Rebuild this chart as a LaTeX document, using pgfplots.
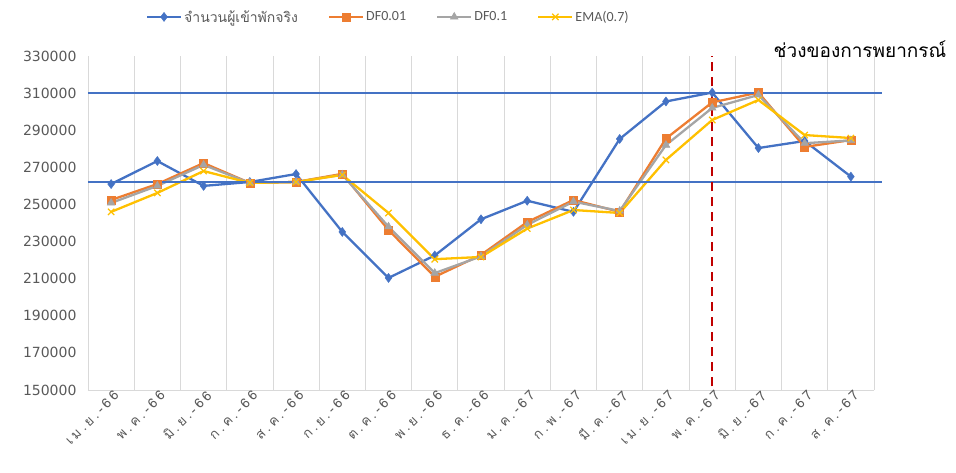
\documentclass[border=0pt]{standalone}
\usepackage{fontspec}
\usepackage{pgfplots}
\pgfplotsset{compat=1.18}
\usepackage{pgfplotstable}
\setmainfont{Carlito}
\newfontfamily\thai[Script=Thai]{Loma}
\newfontfamily\thaiwide[Script=Thai, LetterSpace=22]{Loma}
\newfontfamily\dejavu{DejaVu Sans}
\definecolor{cblue}{HTML}{4472C4}
\definecolor{corange}{HTML}{ED7D31}
\definecolor{cgray}{HTML}{A5A5A5}
\definecolor{cyellow}{HTML}{FFC000}
\definecolor{ctext}{HTML}{595959}
\definecolor{cred}{HTML}{C00000}
\definecolor{cgrid}{HTML}{D9D9D9}

\pgfplotstableread{
idx actual df001 df01 ema
0 261000 252400 250800 246000
1 273400 261000 260000 256200
2 260000 272300 271300 268000
3 262100 261600 261600 261600
4 266400 262100 262100 262100
5 235200 266500 266000 265900
6 210400 236200 238000 245400
7 222500 211000 213000 220500
8 242000 222800 222000 221700
9 252000 240500 239000 237000
10 246000 252400 251500 247000
11 285300 246000 246500 245400
12 305500 285500 282000 274000
13 310300 305000 302000 295500
14 280400 310300 309000 306300
15 284200 281000 283000 287400
16 265000 284700 284500 285800
}\datatable

\begin{document}
\begin{tikzpicture}
\path[use as bounding box] (-88pt,-82pt) rectangle (868pt,390pt);
\begin{axis}[
  scale only axis,
  width=786pt, height=334pt,
  xmin=-0.5, xmax=16.5,
  ymin=150000, ymax=330000,
  clip=false,
  axis x line*=bottom,
  axis y line*=left,
  x axis line style={draw=cgrid, line width=0.8pt},
  y axis line style={draw=none},
  major tick length=0pt,
  minor tick length=0pt,
  xtick={0,...,16},
  xticklabels={เม.ย.-66,พ.ค.-66,มิ.ย.-66,ก.ค.-66,ส.ค.-66,ก.ย.-66,ต.ค.-66,พ.ย.-66,ธ.ค.-66,ม.ค.-67,ก.พ.-67,มี.ค.-67,เม.ย.-67,พ.ค.-67,มิ.ย.-67,ก.ค.-67,ส.ค.-67},
  minor xtick={-0.5,0.5,...,16.5},
  xminorgrids,
  minor grid style={draw=cgrid, line width=0.8pt},
  xticklabel style={rotate=45, anchor=east, font=\thaiwide\fontsize{13.5}{13.5}\selectfont, text=ctext, xshift=5pt, yshift=-6pt},
  scaled y ticks=false,
  ytick={150000,170000,...,330000},
  yticklabel style={font=\dejavu\fontsize{14}{14}\selectfont, text=ctext, xshift=-8pt},
  /pgf/number format/.cd, fixed, 1000 sep={}, assume math mode=true,
  /pgfplots/.cd,
  legend columns=4,
  legend style={at={(0.382,1.117)}, anchor=center, draw=none, fill=none,
    font=\fontsize{14}{14}\selectfont, text=ctext,
    /tikz/every even column/.append style={column sep=28pt}},
  legend image code/.code={\draw[mark repeat=2,mark phase=2,#1] plot coordinates {(0pt,0pt) (17pt,0pt) (34pt,0pt)};},
  every axis plot/.append style={line width=2.3pt, mark options={solid}},
]
\addplot[cblue, mark=diamond*, mark size=4.5pt, mark options={fill=cblue, line width=0.5pt}] table[x=idx, y=actual] {\datatable};
\addlegendentry{\thai จำนวนผู้เข้าพักจริง}
\addplot[corange, mark=square*, mark size=4pt, mark options={fill=corange, line width=0.5pt}] table[x=idx, y=df001] {\datatable};
\addlegendentry{DF0.01}
\addplot[cgray, mark=triangle*, mark size=4.5pt, mark options={fill=cgray, line width=0.5pt}] table[x=idx, y=df01] {\datatable};
\addlegendentry{DF0.1}
\addplot[cyellow, mark=x, mark size=4.5pt, mark options={line width=1.2pt}] table[x=idx, y=ema] {\datatable};
\addlegendentry{EMA(0.7)}
\addplot[cblue, line width=1.5pt, mark=none, forget plot] coordinates {(-0.5,310000) (16.67,310000)};
\addplot[cblue, line width=1.5pt, mark=none, forget plot] coordinates {(-0.5,262000) (16.67,262000)};
\addplot[cred, line width=2.2pt, dash pattern=on 9pt off 6pt, mark=none, forget plot] coordinates {(13,152000) (13,330000)};
\node[anchor=east, font=\thai\fontsize{19}{19}\selectfont, text=black] at (axis cs:18.14,333500) {ช่วงของการพยากรณ์};
\end{axis}
\end{tikzpicture}
\end{document}
